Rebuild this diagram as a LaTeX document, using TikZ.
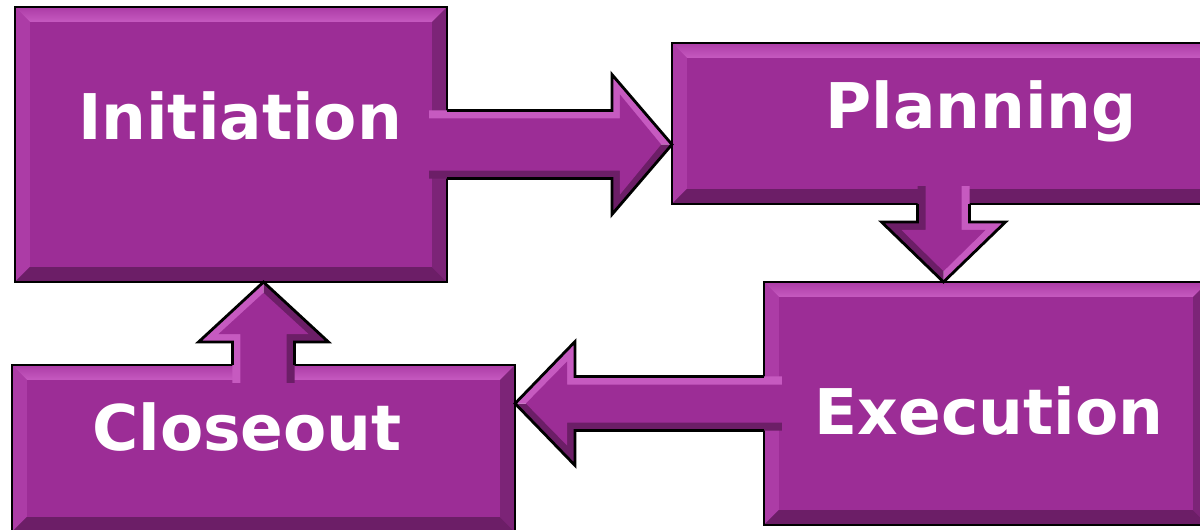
\documentclass[tikz,border=0pt]{standalone}
\usepackage{fontspec}
\newfontfamily\procfont{DejaVu Sans}
\usetikzlibrary{calc}

\definecolor{procfill}{RGB}{156,45,150}
\definecolor{proclight}{RGB}{198,90,192}
\definecolor{procsoft}{RGB}{172,60,166}
\definecolor{procdark}{RGB}{108,30,103}
\definecolor{procdeep}{RGB}{124,36,119}

\tikzset{
  procbox/.style={rectangle, draw=black, line width=2pt, fill=procfill,
    inner sep=0pt, outer sep=0pt,
    path picture={
      \path (path picture bounding box.north west) coordinate (bnw)
            (path picture bounding box.north east) coordinate (bne)
            (path picture bounding box.south west) coordinate (bsw)
            (path picture bounding box.south east) coordinate (bse);
      \shade[top color=procsoft, bottom color=proclight] (bnw) -- (bne)
        -- ([shift={(-0.375cm,-0.375cm)}]bne)
        -- ([shift={(0.375cm,-0.375cm)}]bnw) -- cycle;
      \fill[procsoft] (bnw) -- (bsw) -- ([shift={(0.375cm,0.375cm)}]bsw)
        -- ([shift={(0.375cm,-0.375cm)}]bnw) -- cycle;
      \fill[procdark] (bsw) -- (bse) -- ([shift={(-0.375cm,0.375cm)}]bse)
        -- ([shift={(0.375cm,0.375cm)}]bsw) -- cycle;
      \fill[procdeep] (bne) -- (bse) -- ([shift={(-0.375cm,0.375cm)}]bse)
        -- ([shift={(-0.375cm,-0.375cm)}]bne) -- cycle;
    }},
  proclabel/.style={text=white, anchor=base, inner sep=0pt,
    font=\procfont\bfseries\fontsize{44.8}{50}\selectfont},
  arrline/.style={draw=black, line width=2pt}
}

% #1 start anchor, #2 tip, #3 half shaft, #4 half head,
% #5 colour left of the direction, #6 colour right of it
\newcommand{\procarrow}[6]{%
  \coordinate (pa-s) at (#1);
  \coordinate (pa-t) at (#2);
  \coordinate (pa-i) at ($(pa-s)!-0.45cm!(pa-t)$);
  \coordinate (pa-b) at ($(pa-t)!1.5cm!(pa-s)$);
  \coordinate (pa-c) at ($(pa-b)!0.2cm!(pa-t)$);
  \coordinate (pa-e) at ($(pa-t)!0.27cm!(pa-s)$);
  \fill[#5] (pa-i) -- ($(pa-i)!#3!90:(pa-t)$) -- ($(pa-b)!#3!90:(pa-t)$)
    -- ($(pa-b)!#4!90:(pa-t)$) -- (pa-t) -- cycle;
  \fill[#6] (pa-i) -- ($(pa-i)!#3!-90:(pa-t)$) -- ($(pa-b)!#3!-90:(pa-t)$)
    -- ($(pa-b)!#4!-90:(pa-t)$) -- (pa-t) -- cycle;
  \fill[procfill] ($(pa-i)!#3-0.2cm!90:(pa-t)$) -- ($(pa-c)!#3-0.2cm!90:(pa-t)$)
    -- ($(pa-c)!#4-0.5cm!90:(pa-t)$) -- (pa-e)
    -- ($(pa-c)!#4-0.5cm!-90:(pa-t)$) -- ($(pa-c)!#3-0.2cm!-90:(pa-t)$)
    -- ($(pa-i)!#3-0.2cm!-90:(pa-t)$) -- cycle;
  \draw[arrline] ($(pa-s)!#3!90:(pa-t)$) -- ($(pa-b)!#3!90:(pa-t)$)
    -- ($(pa-b)!#4!90:(pa-t)$) -- (pa-t) -- ($(pa-b)!#4!-90:(pa-t)$)
    -- ($(pa-b)!#3!-90:(pa-t)$) -- ($(pa-s)!#3!-90:(pa-t)$);
}

\begin{document}
\begin{tikzpicture}[x=0.025cm, y=0.025cm]
    \useasboundingbox (0,0) rectangle (1200,529);
    \clip (0,0) rectangle (1200,529);

    % the four phases
    \node[procbox, minimum width=10.8cm, minimum height=6.875cm] (init) at (231,384.5) {};
    \node[procbox, minimum width=13.575cm, minimum height=4.025cm] (plan) at (943.5,405.5) {};
    \node[procbox, minimum width=11.1cm, minimum height=6.075cm] (exec) at (986,125.5) {};
    \node[procbox, minimum width=12.575cm, minimum height=4.175cm] (close) at (263.5,80.5) {};

    % block arrows between them
    \procarrow{init.east}{plan.west |- init.east}{0.85cm}{1.75cm}{proclight}{procdark}
    \procarrow{plan.south}{plan.south |- exec.north}{0.65cm}{1.55cm}{proclight}{procdark}
    \procarrow{exec.west}{close.east |- exec.west}{0.675cm}{1.55cm}{procdark}{proclight}
    \procarrow{close.north}{close.north |- init.south}{0.775cm}{1.625cm}{proclight}{procdark}

    \node[proclabel] (initlabel) at (240,390) {Initiation};
    \node[proclabel] (planlabel) at (981,401) {Planning};
    \node[proclabel] (execlabel) at (989,95) {Execution};
    \node[proclabel] (closelabel) at (247,79) {Closeout};
\end{tikzpicture}
\end{document}
